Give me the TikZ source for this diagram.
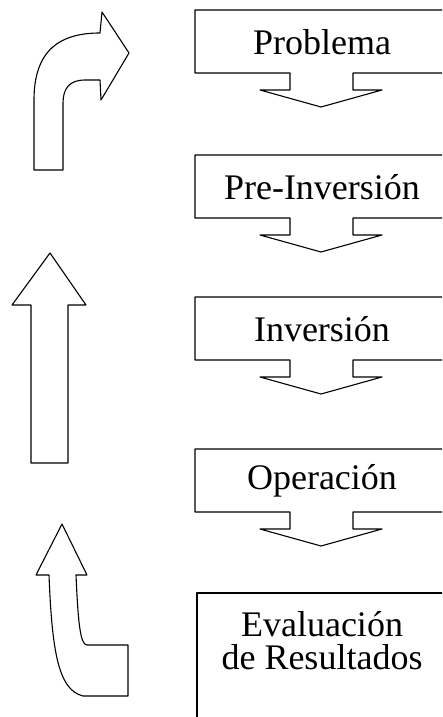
\documentclass[tikz,border=0pt]{standalone}
\usepackage{fontspec}
\setmainfont{Liberation Serif}

\begin{document}
\begin{tikzpicture}[x=1pt, y=-1pt, line width=1.1pt, line join=round,
    etapa/.style={font=\fontsize{36}{33}\selectfont, align=center, inner sep=0pt}]
    \useasboundingbox (0,0) rectangle (442,717);
    \clip (0,0) rectangle (442,717);

    % Cajas con flecha hacia abajo
    \foreach \ytop/\nombre/\texto in {10/problema/Problema, 155/preinversion/Pre-Inversión,
        297/inversion/Inversión, 449/operacion/Operación}{
        \draw (450,\ytop) -- (195,\ytop) -- (195,\ytop+63) -- (290,\ytop+63)
            -- (290,\ytop+80) -- (260,\ytop+80) -- (321,\ytop+97) -- (382,\ytop+80)
            -- (353,\ytop+80) -- (353,\ytop+63) -- (450,\ytop+63);
        \node[etapa] (\nombre) at (322,\ytop+32) {\texto};
    }

    % Caja final
    \draw (450,593) -- (197,593) -- (197,730);
    \node[etapa] (evaluacion) at (322,641) {Evaluación\\de Resultados};

    % Flecha curva hacia la derecha
    \draw (34,170) -- (34,100) .. controls (34,50) and (60,33) .. (100,33)
        -- (102,12) -- (129,53) -- (101,100) -- (100,80) -- (85,80)
        .. controls (70,80) and (63,88) .. (63,103) -- (63,170) -- cycle;

    % Flecha recta hacia arriba
    \draw (31,463) -- (31,305) -- (12,305) -- (50,253) -- (86,305)
        -- (68,305) -- (68,463) -- cycle;

    % Flecha curva desde la derecha hacia arriba
    \draw (49,575) -- (36,575) -- (62,524) -- (87,575) -- (76,575)
        .. controls (78,620) and (80,645) .. (87,645) -- (128,645) -- (128,696)
        -- (83,696) .. controls (58,690) and (52,650) .. (49,575) -- cycle;
\end{tikzpicture}
\end{document}
